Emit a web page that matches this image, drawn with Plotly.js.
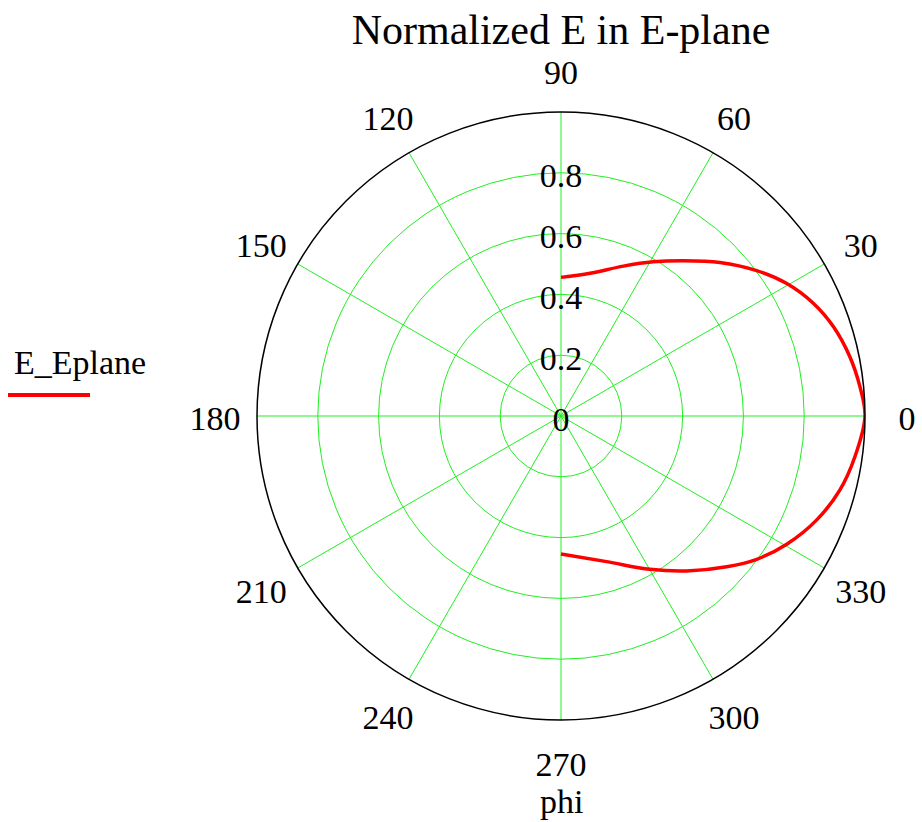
<!DOCTYPE html>
<html>
<head>
<meta charset="utf-8">
<script src="https://cdn.plot.ly/plotly-3.0.1.min.js"></script>
<style>html,body{margin:0;padding:0;background:#fff;}#chart{width:922px;height:822px;}</style>
</head>
<body>
<div id="chart"></div>
<script>
// angle phi in degrees and normalized E-plane field
const phiDeg = [90, 78.5, 67.4, 59.1, 51.8, 44.0, 36.6, 30.4, 24.1, 18.2, 11.6, 5.6, 0,
                352.1, 345.1, 337.9, 330.4, 323.8, 317.7, 309.0, 300.1, 287.4, 270];
const eEplane = [0.456, 0.479, 0.534, 0.591, 0.650, 0.727, 0.802, 0.861, 0.909, 0.943, 0.970, 0.988, 1.0,
                 0.976, 0.949, 0.908, 0.854, 0.798, 0.737, 0.656, 0.583, 0.502, 0.454];
const angTicks = [0, 30, 60, 90, 120, 150, 180, 210, 240, 270, 300, 330];
const angLabels = ["0", "30", "60", "90", "120", "150", "180", "210", "240", "270", "300", "330"];
const radTicks = [0, 0.2, 0.4, 0.6, 0.8];
const radLabels = ["0", "0.2", "0.4", "0.6", "0.8"];
const seriesName = "E_Eplane";

const W = 922, H = 822;
const cx = 561, cy = 416, R = 304;     // main polar: pole and radius in px
const R2 = 360;                        // label ring subplot radius in px (must fit in the page)
const serif = "'Liberation Serif', 'Times New Roman', Times, serif";

// label position at pixel offset (px, py) from the pole (py up), in polar coords of a ring of radius rad
function polarAt(px, py, rad) {
  return {r: Math.hypot(px, py) / rad, theta: Math.atan2(py, px) * 180 / Math.PI};
}
const LABEL_RADIUS = 346;   // px from pole for angular tick labels
const LABEL_DROP = 5;       // px the labels sit below their radial line
const RAD_DROP = 6;         // px the radial labels sit below their circle

const angPos = angTicks.map(a => polarAt(LABEL_RADIUS * Math.cos(a * Math.PI / 180),
                                         LABEL_RADIUS * Math.sin(a * Math.PI / 180) - LABEL_DROP, R2));
const radPos = radTicks.map(v => polarAt(0, v * R - RAD_DROP, R));

const traces = [
  {
    type: "scatterpolar",
    mode: "lines",
    r: eEplane,
    theta: phiDeg,
    name: seriesName,
    line: {color: "#ff0000", width: 3.5, shape: "spline"},
    showlegend: false,
    hoverinfo: "skip"
  },
  {
    type: "scatterpolar",
    mode: "text",
    r: radPos.map(p => p.r),
    theta: radPos.map(p => p.theta),
    text: radLabels,
    textposition: "middle center",
    textfont: {family: serif, size: 34, color: "#000"},
    showlegend: false,
    hoverinfo: "skip",
    cliponaxis: false
  },
  {
    type: "scatterpolar",
    subplot: "polar2",
    mode: "text",
    r: angPos.map(p => p.r),
    theta: angPos.map(p => p.theta),
    text: angLabels,
    textposition: "middle center",
    textfont: {family: serif, size: 34, color: "#000"},
    showlegend: false,
    hoverinfo: "skip",
    cliponaxis: false
  }
];

const hiddenAxis = {showgrid: false, showline: false, showticklabels: false, ticks: ""};

const layout = {
  width: W, height: H,
  margin: {l: 0, r: 0, t: 0, b: 0},
  paper_bgcolor: "#fff",
  font: {family: serif, color: "#000", size: 34},
  showlegend: false,
  title: {
    text: "Normalized E in E-plane",
    font: {family: serif, size: 42, color: "#000"},
    x: cx / W, xanchor: "center",
    y: 1 - 29 / H, yanchor: "middle"
  },
  polar: {
    domain: {x: [(cx - R) / W, (cx + R) / W], y: [(H - (cy + R)) / H, (H - (cy - R)) / H]},
    bgcolor: "#fff",
    radialaxis: {
      range: [0, 1],
      tickvals: radTicks.slice(1),
      showticklabels: false,
      ticks: "",
      showline: false,
      gridcolor: "#22ee22",
      gridwidth: 1,
      angle: 90
    },
    angularaxis: {
      rotation: 0,
      direction: "counterclockwise",
      tickmode: "array",
      tickvals: angTicks,
      showticklabels: false,
      ticks: "",
      gridcolor: "#22ee22",
      gridwidth: 1,
      showline: true,
      linecolor: "#000",
      linewidth: 1.5
    }
  },
  polar2: {
    domain: {x: [(cx - R2) / W, (cx + R2) / W], y: [(H - (cy + R2)) / H, (H - (cy - R2)) / H]},
    bgcolor: "rgba(0,0,0,0)",
    radialaxis: Object.assign({range: [0, 1]}, hiddenAxis),
    angularaxis: Object.assign({rotation: 0, direction: "counterclockwise"}, hiddenAxis)
  },
  annotations: [
    {text: seriesName, xref: "paper", yref: "paper", x: 12 / W, y: 1 - 362 / H,
     xanchor: "left", yanchor: "middle", showarrow: false,
     font: {family: serif, size: 34, color: "#000"}},
    {text: "phi", xref: "paper", yref: "paper", x: cx / W, y: 1 - 801 / H,
     xanchor: "center", yanchor: "middle", showarrow: false,
     font: {family: serif, size: 34, color: "#000"}}
  ],
  shapes: [
    {type: "line", xref: "paper", yref: "paper", x0: 8 / W, x1: 90 / W, y0: 1 - 395 / H, y1: 1 - 395 / H,
     line: {color: "#ff0000", width: 4}}
  ]
};

Plotly.newPlot("chart", traces, layout, {displayModeBar: false, staticPlot: true});
</script>
</body>
</html>
